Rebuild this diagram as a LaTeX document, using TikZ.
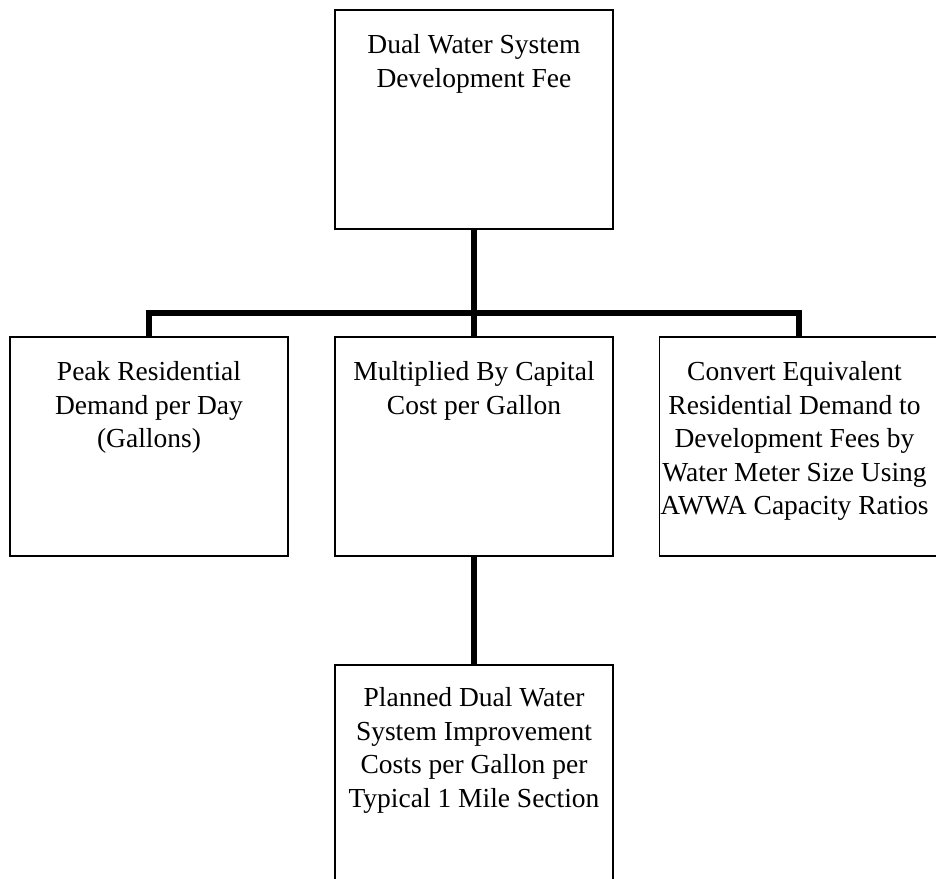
\documentclass[tikz,border=0pt]{standalone}
\usepackage{fontspec}
\setmainfont{Liberation Serif}
\usepackage{tikz}
\usetikzlibrary{positioning}

\begin{document}
\begin{tikzpicture}[
  x=1pt, y=-1pt,
  box/.style={rectangle, draw=black, line width=1.5pt,
              minimum width=278pt, minimum height=219pt, inner sep=0pt},
  boxtext/.style={align=center, inner sep=0pt,
              font=\fontsize{27.5}{33.5}\selectfont},
  conn/.style={line width=6pt, black, line join=miter}
]
\clip (0,0) rectangle (936,878);

% === Boxes ===
\node[box] (fee)      at (474, 119.5) {};
\node[box] (peak)     at (149, 446.5) {};
\node[box] (mult)     at (474, 446.5) {};
\node[box] (convert)  at (798.5, 446.5) {};
\node[box] (planned)  at (474, 774.5) {};

% === Texts (top of each box) ===
\node[boxtext, below=25pt of fee.north] (feetext)
  {Dual Water System\\Development Fee};
\node[boxtext, below=25pt of peak.north] (peaktext)
  {Peak Residential\\Demand per Day\\(Gallons)};
\node[boxtext, below=25pt of mult.north] (multtext)
  {Multiplied By Capital\\Cost per Gallon};
\node[boxtext, below=25pt of convert.north, xshift=-4pt] (converttext)
  {Convert Equivalent\\Residential Demand to\\Development Fees by\\Water Meter Size Using\\AWWA Capacity Ratios};
\node[boxtext, below=23pt of planned.north] (plannedtext)
  {Planned Dual Water\\System Improvement\\Costs per Gallon per\\Typical 1 Mile Section};

% === Connectors ===
\coordinate (bar) at (474, 313);
\draw[conn] (fee.south) -- (bar);
\draw[conn] (peak.north) |- (bar) -| (convert.north);
\draw[conn] (bar) -- (mult.north);
\draw[conn] (mult.south) -- (planned.north);

\end{tikzpicture}
\end{document}
